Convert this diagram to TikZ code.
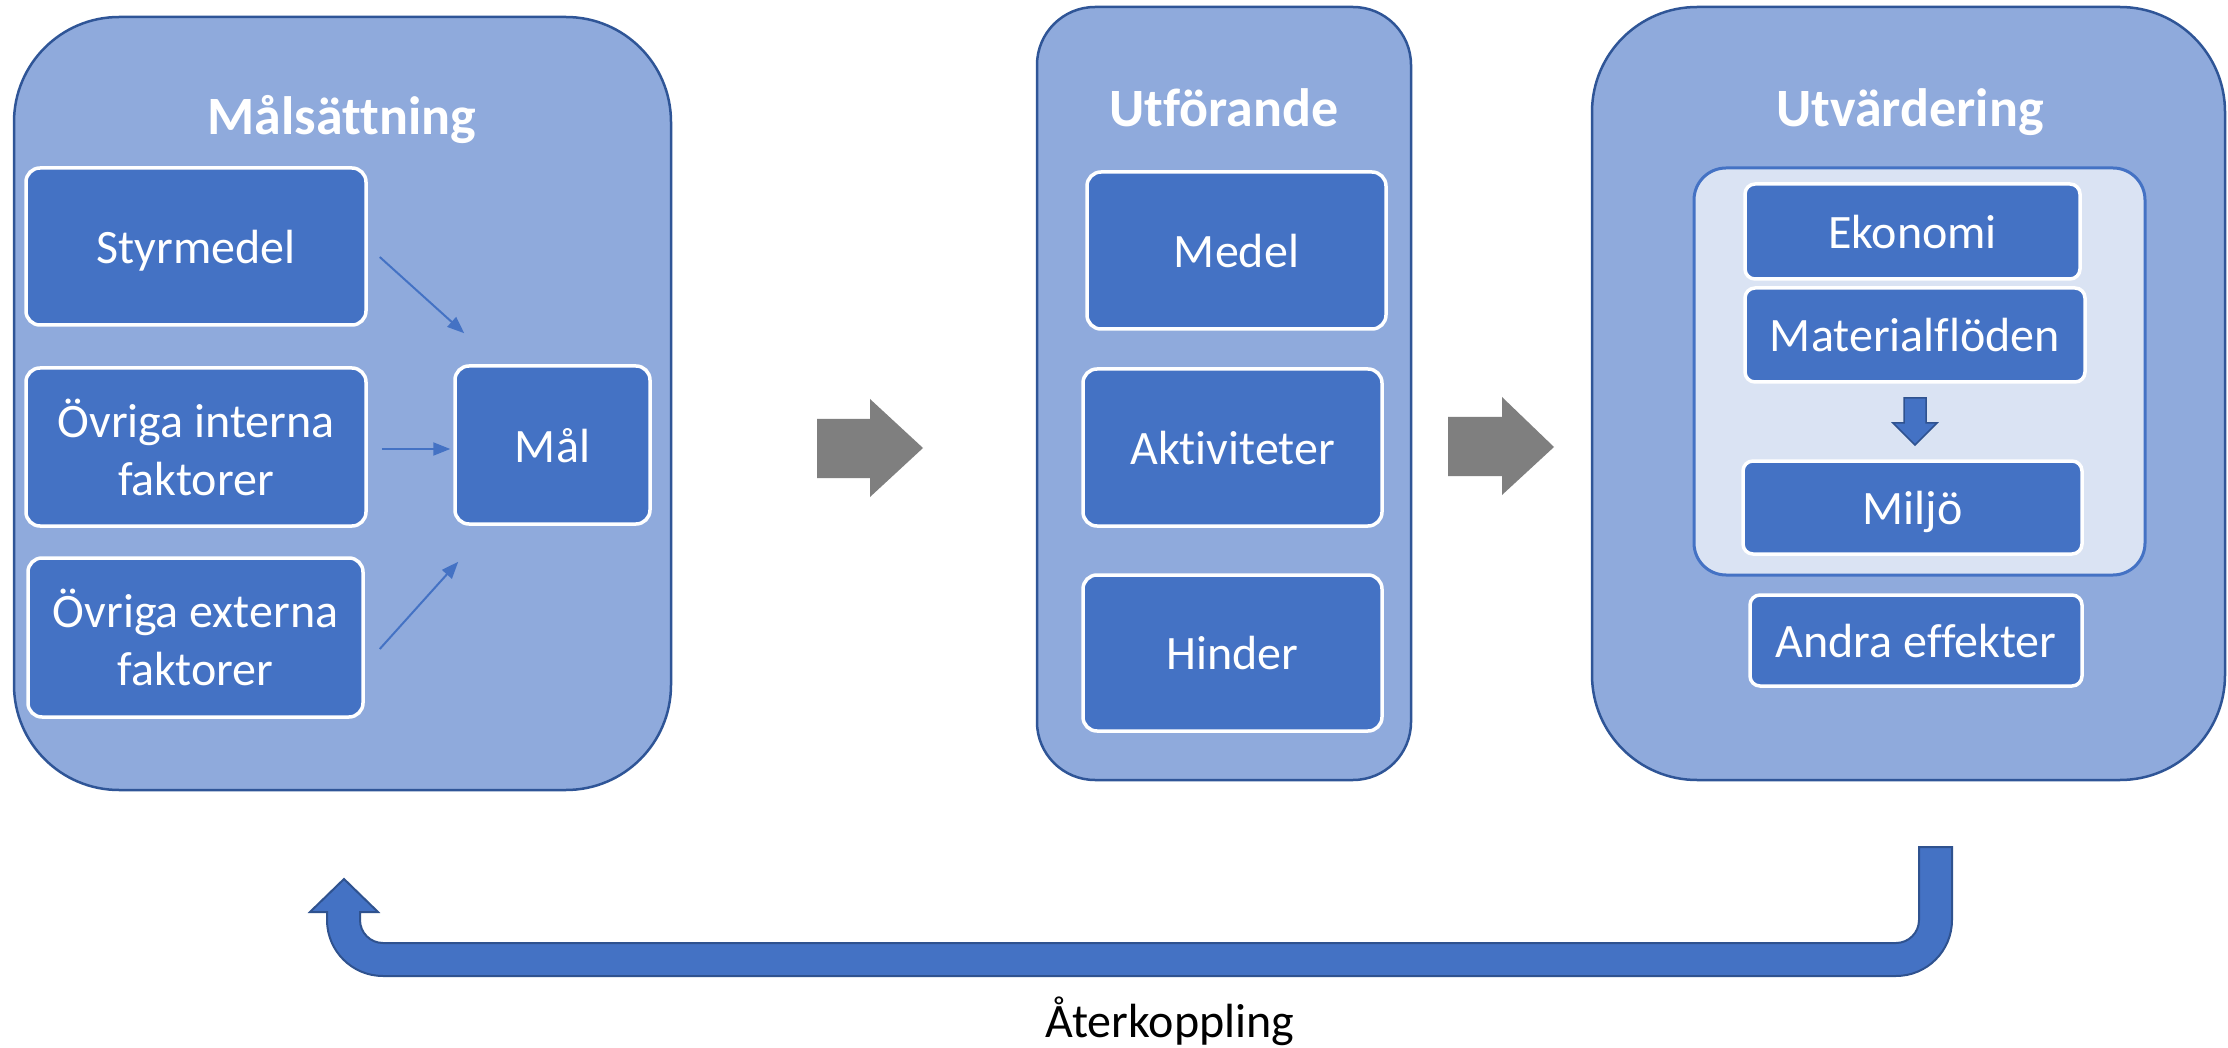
\documentclass[tikz,border=0pt]{standalone}
\usepackage{fontspec}
\setmainfont[Ligatures=NoCommon]{Carlito}
\usetikzlibrary{arrows.meta,calc}
\definecolor{panelfill}{HTML}{8FAADC}
\definecolor{panelline}{HTML}{2F5597}
\definecolor{boxfill}{HTML}{4472C4}
\definecolor{lightfill}{HTML}{DAE3F3}
\definecolor{arrowline}{HTML}{2F528F}
\definecolor{grayarrow}{HTML}{7F7F7F}
\begin{document}
\begin{tikzpicture}[x=1pt,y=-1pt,
  panel/.style={draw=panelline, fill=panelfill, line width=2.5pt, rectangle, inner sep=0pt},
  box/.style={draw=white, fill=boxfill, line width=3.5pt, rounded corners=14pt, text=white,
    font=\fontsize{48}{58}\selectfont, align=center, inner sep=0pt, text depth=0pt},
  smallbox/.style={box, rounded corners=10pt},
  paneltitle/.style={text=white, font=\fontsize{54}{64}\selectfont\bfseries, anchor=base, inner sep=0pt},
  conn/.style={draw=boxfill, line width=2pt, -{Triangle[length=17pt,width=13pt]}},
  blockarrow/.style={fill=grayarrow},
  bluearrow/.style={fill=boxfill, draw=arrowline, line width=2pt, line join=miter}
]
\useasboundingbox (0,0) rectangle (2228,1048);
\fill[white] (0,0) rectangle (2228,1048);

% panels
\node[panel, rounded corners=105pt, minimum width=657pt, minimum height=773pt] (pgoal) at (342.5,403.5) {};
\node[panel, rounded corners=58pt, minimum width=374pt, minimum height=773pt] (pexec) at (1224,393.5) {};
\node[panel, rounded corners=105pt, minimum width=633pt, minimum height=773pt] (peval) at (1908.5,393.5) {};

% titles
\node[paneltitle] (tgoal) at (342,135) {Målsättning};
\node[paneltitle] (texec) at (1224,127) {Utförande};
\node[paneltitle] (teval) at (1910,127) {Utvärdering};

% left panel boxes
\node[box, minimum width=340pt, minimum height=157pt] (styr) at (196,246.5) {Styrmedel};
\node[box, minimum width=340pt, minimum height=158pt] (intern) at (196,447) {Övriga interna\\faktorer};
\node[box, minimum width=335pt, minimum height=159pt] (extern) at (195.5,637.5) {Övriga externa\\faktorer};
\node[box, minimum width=195pt, minimum height=158pt] (mal) at (552.5,445) {Mål};

\draw[conn] ($(styr.east)+(12,10.5)$) -- ($(mal.north west)+(11,-31)$);
\draw[conn] ($(intern.east)+(14,2)$) -- ($(mal.west)+(-3,4)$);
\draw[conn] ($(extern.east)+(15,11.5)$) -- ($(mal.south west)+(5,36)$);

% middle panel boxes
\node[box, minimum width=299pt, minimum height=157pt] (medel) at (1236.5,250.5) {Medel};
\node[box, minimum width=299pt, minimum height=157pt] (aktiv) at (1232.5,447.5) {Aktiviteter};
\node[box, minimum width=299pt, minimum height=156pt] (hinder) at (1232.5,653) {Hinder};

% right panel
\node[draw=boxfill, fill=lightfill, line width=3pt, rounded corners=32pt, minimum width=451pt, minimum height=407pt, inner sep=0pt] (light) at (1919.5,371.5) {};
\node[smallbox, minimum width=335pt, minimum height=95pt] (eko) at (1912.5,231.5) {Ekonomi};
\node[smallbox, minimum width=340pt, minimum height=94pt] (mat) at (1915,335) {Materialflöden};
\node[smallbox, minimum width=339pt, minimum height=93pt] (milj) at (1912.5,507.5) {Miljö};
\node[smallbox, minimum width=332pt, minimum height=91pt] (andra) at (1916,640.5) {Andra effekter};

% small down arrow
\draw[bluearrow, line width=1.5pt] (1904,398) -- (1926,398) -- (1926,423) -- (1937,423) -- (1915,445) -- (1893,423) -- (1904,423) -- cycle;

% gray block arrows
\fill[blockarrow] (817,419) -- (870,419) -- (870,399) -- (923,448) -- (870,497) -- (870,478) -- (817,478) -- cycle;
\fill[blockarrow] (1448,417) -- (1502,417) -- (1502,397) -- (1554,447) -- (1502,495) -- (1502,476) -- (1448,476) -- cycle;

% feedback arrow
\draw[bluearrow] (1952,847) -- (1952,920) arc[start angle=0, end angle=90, radius=56]
  -- (383,976) arc[start angle=90, end angle=180, radius=56]
  -- (327,912) -- (310,912) -- (344,879) -- (378,912) -- (360,912) -- (360,920)
  arc[start angle=180, end angle=90, radius=23]
  -- (1896,943) arc[start angle=90, end angle=0, radius=23]
  -- (1919,847) -- cycle;
\node[font=\fontsize{48}{58}\selectfont, anchor=base, inner sep=0pt] (feedlbl) at (1170,1037) {Återkoppling};
\end{tikzpicture}
\end{document}
